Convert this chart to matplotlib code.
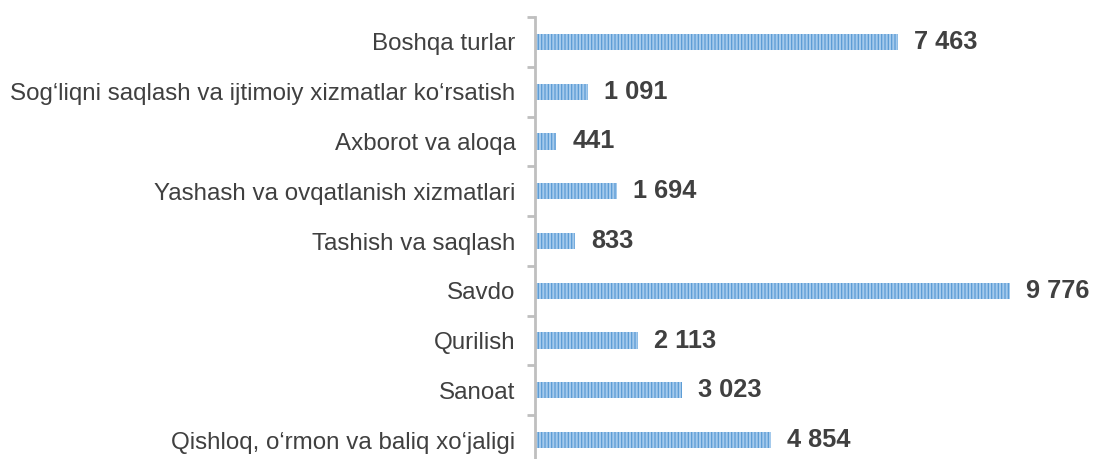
import matplotlib
matplotlib.use("Agg")
import matplotlib.pyplot as plt

categories = [
    "Qishloq, o‘rmon va baliq xo‘jaligi",
    "Sanoat",
    "Qurilish",
    "Savdo",
    "Tashish va saqlash",
    "Yashash va ovqatlanish xizmatlari",
    "Axborot va aloqa",
    "Sog‘liqni saqlash va ijtimoiy xizmatlar ko‘rsatish",
    "Boshqa turlar",
]
values = [4854, 3023, 2113, 9776, 833, 1694, 441, 1091, 7463]
value_labels = ["4 854", "3 023", "2 113", "9 776", "833", "1 694", "441", "1 091", "7 463"]

plt.rcParams['font.family'] = ['Liberation Sans', 'DejaVu Sans']
plt.rcParams['hatch.linewidth'] = 0.9

fig = plt.figure(figsize=(10.94, 4.59), dpi=100)
ax = fig.add_axes([535/1094, 1 - 464.9/459, 534.5/1094, (464.9 - 17.1)/459])

y = list(range(len(categories)))
ax.barh(y, values, height=0.33, color='#A5CAEC', edgecolor='#5B9BD5',
        hatch='|||||', linewidth=0)

for yi, v, lab in zip(y, values, value_labels):
    ax.annotate(lab, xy=(v, yi), xytext=(16, 0), textcoords='offset pixels',
                va='center', ha='left', fontsize=18.3, fontweight='bold',
                color='#404040')

ax.set_xlim(0, 11000)
ax.set_ylim(-0.5, len(categories) - 0.5)
ax.set_yticks(y)
ax.set_yticklabels(categories, fontsize=17.4, color='#404040')
ax.set_yticks([i - 0.5 for i in range(len(categories) + 1)], minor=True)
ax.tick_params(axis='y', which='major', length=0, pad=14)
ax.tick_params(axis='y', which='minor', length=6, width=2, color='#BFBFBF', direction='out')
ax.set_xticks([])
for s in ['top', 'right', 'bottom']:
    ax.spines[s].set_visible(False)
ax.spines['left'].set_color('#BFBFBF')
ax.spines['left'].set_linewidth(2)

fig.savefig('out.png', dpi=100)
